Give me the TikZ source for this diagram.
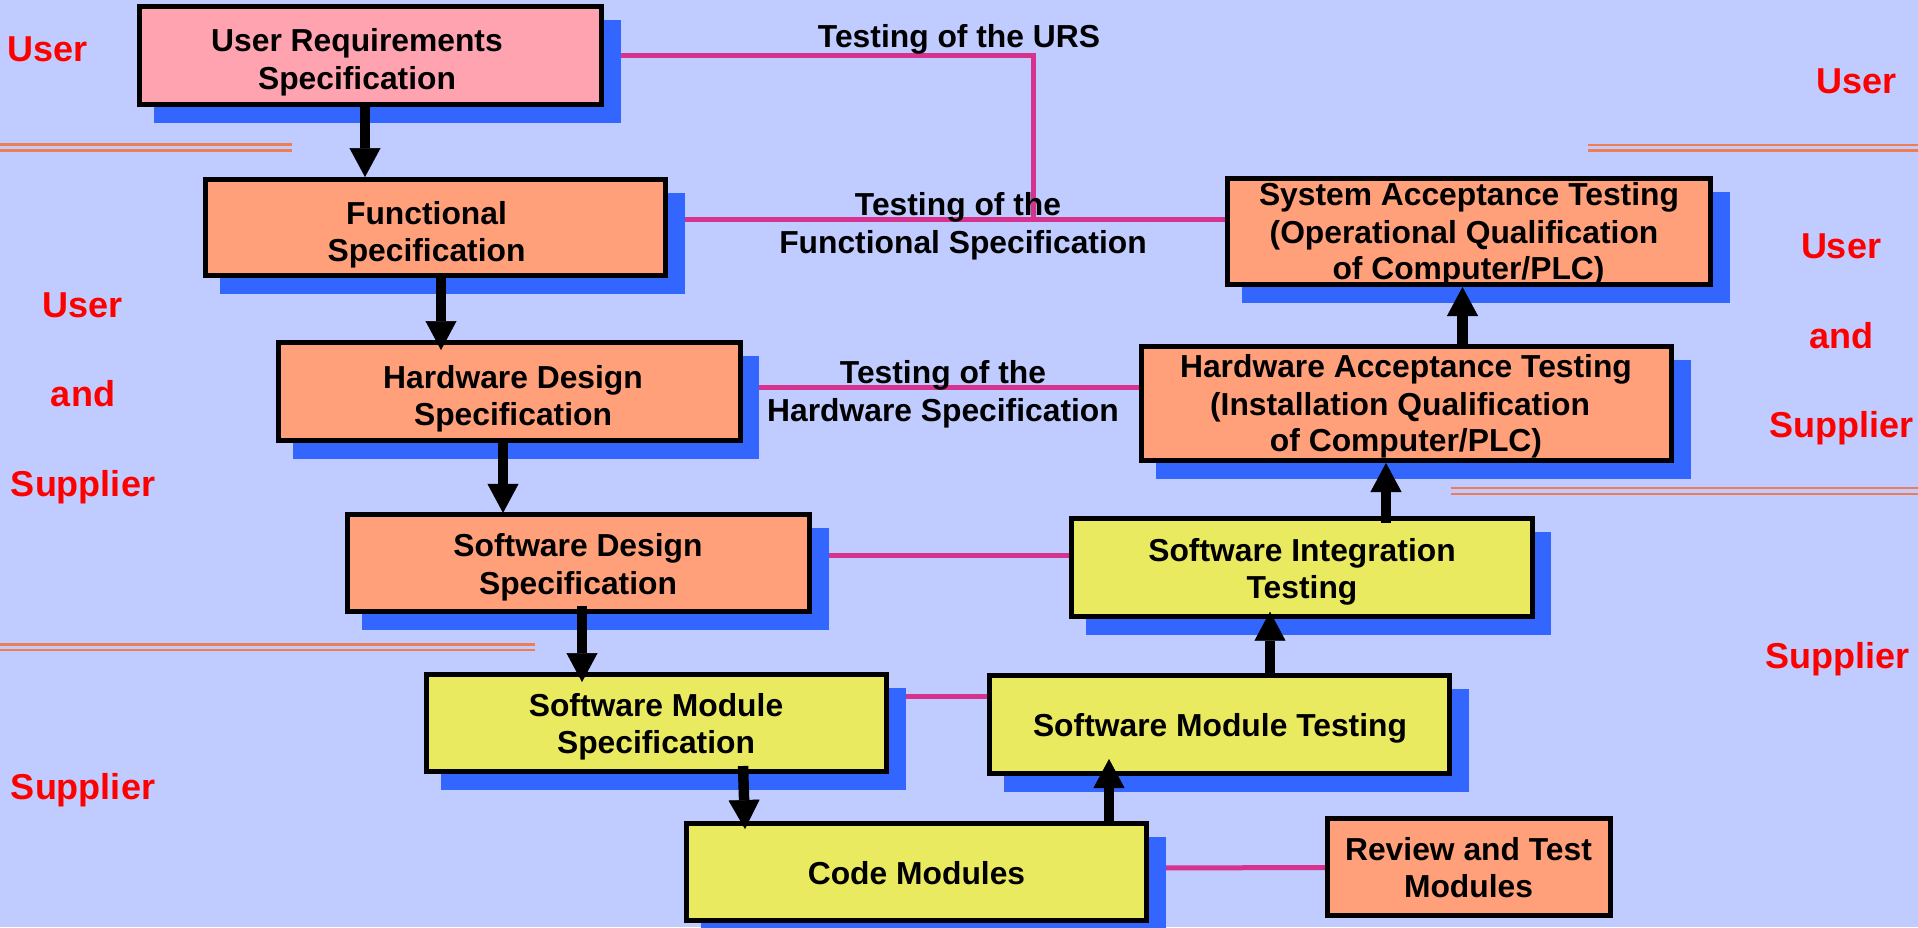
\documentclass[tikz,border=0pt]{standalone}
\usepackage{fontspec}
\setmainfont{Liberation Sans}
\usetikzlibrary{arrows.meta,shadows,backgrounds}
\definecolor{bgc}{RGB}{192,203,255}
\definecolor{sblue}{RGB}{51,102,255}
\definecolor{pinkfill}{RGB}{255,163,177}
\definecolor{salmon}{RGB}{255,160,122}
\definecolor{yel}{RGB}{234,234,96}
\definecolor{pline}{RGB}{214,51,143}
\definecolor{oline}{RGB}{240,125,80}
\definecolor{redtxt}{RGB}{255,0,0}
\newcommand\boxfont{\fontsize{31.8}{38}\selectfont\bfseries}
\newcommand\sidefont{\fontsize{36}{43}\selectfont\bfseries}
\begin{document}
\begin{tikzpicture}[x=1pt,y=-1pt,
  plainbox/.style={draw=black, line width=5pt, rectangle, inner sep=0pt},
  box/.style={plainbox, drop shadow={shadow xshift=16.5pt, shadow yshift=-16pt,
      opacity=1, fill=sblue, draw=sblue, line width=5pt}},
  txt/.style={font=\boxfont, text=black, anchor=base, inner sep=0pt},
  side/.style={font=\sidefont, text=redtxt, anchor=base, inner sep=0pt},
  arr/.style={line width=10.5pt, draw=black,
      -{Triangle[width=31pt,length=29pt,line width=0.5pt]}},
  pl/.style={draw=pline, line width=5pt},
  sepline/.style={draw=oline, line width=2.5pt}]

\useasboundingbox (0,0) rectangle (1918,927);

% boxes
\node[box, fill=pinkfill, minimum width=462pt, minimum height=98pt] (urs) at (370.5,55.5) {};
\node[box, fill=salmon, minimum width=460pt, minimum height=96pt] (fs) at (435.5,227.5) {};
\node[box, fill=salmon, minimum width=461.5pt, minimum height=98pt] (hds) at (509.25,391.5) {};
\node[box, fill=salmon, minimum width=462pt, minimum height=97.3pt] (sds) at (578.5,563) {};
\node[box, fill=yel, minimum width=460pt, minimum height=97pt] (sms) at (656.5,723) {};
\node[box, fill=yel, minimum width=460pt, minimum height=97pt] (cm) at (916.5,872) {};
\node[plainbox, fill=salmon, minimum width=282.5pt, minimum height=97pt] (rt) at (1468.75,867) {};
\node[box, fill=yel, minimum width=460pt, minimum height=98pt] (smt) at (1219.5,724.5) {};
\node[box, fill=yel, minimum width=460.5pt, minimum height=97.7pt] (sit) at (1301.75,567.35) {};
\node[box, fill=salmon, minimum width=530pt, minimum height=114pt] (hat) at (1406.5,403.5) {};
\node[box, fill=salmon, minimum width=483pt, minimum height=106pt] (sat) at (1469,231.5) {};

\coordinate (urstap) at (1033,219);

\begin{pgfonlayer}{background}
  \fill[bgc] (0,0) rectangle (1918,927);
  % test connectors
  \draw[pl] (urs.east) -| (urstap);
  \draw[pl] ([yshift=8.5pt]fs.east) -- ([yshift=12.5pt]sat.west);
  \draw[pl] ([yshift=4.5pt]hds.east) -- ([yshift=16.5pt]hat.west);
  \draw[pl] ([yshift=8pt]sds.east) -- ([yshift=12.35pt]sit.west);
  \draw[pl] ([yshift=27pt]sms.east) -- ([yshift=28.5pt]smt.west);
  \draw[pl] ([yshift=4pt]cm.east) -- ([yshift=-0.5pt]rt.west);
\end{pgfonlayer}

% separators
\draw[sepline] (0,144.5) -- (292,144.5);
\draw[sepline] (0,150.5) -- (292,150.5);
\draw[sepline] (1588,145) -- (1918,145);
\draw[sepline] (1588,150.5) -- (1918,150.5);
\draw[sepline] (1451,488) -- (1918,488);
\draw[sepline] (1451,494) -- (1918,494);
\draw[sepline] (0,644.5) -- (535,644.5);
\draw[sepline] (0,650) -- (535,650);

% flow arrows
\draw[arr] ([xshift=-5.5pt]urs.south) -- ([xshift=-70.5pt]fs.north);
\draw[arr] ([xshift=5.5pt]fs.south) -- ([xshift=-68.25pt,yshift=-10pt]hds.north);
\draw[arr] ([xshift=-6.25pt]hds.south) -- ([xshift=-75.5pt,yshift=-1pt]sds.north);
\draw[arr] ([xshift=3.5pt,yshift=8pt]sds.south) -- ([xshift=-74.5pt,yshift=-10pt]sms.north);
\draw[arr] ([xshift=86.5pt,yshift=8pt]sms.south) -- ([xshift=-171.5pt,yshift=-8pt]cm.north);
\draw[arr] ([xshift=192.5pt]cm.north) -- ([xshift=-110.5pt,yshift=17pt]smt.south);
\draw[arr] ([xshift=50.5pt]smt.north) -- ([xshift=-31.75pt,yshift=7pt]sit.south);
\draw[arr] ([xshift=84.25pt,yshift=-6.7pt]sit.north) -- ([xshift=-20.5pt]hat.south);
\draw[arr] ([xshift=56pt]hat.north) -- ([xshift=-6.5pt]sat.south);

% box texts
\node[txt] (urs1) at (357,51.7) {User Requirements};
\node[txt] (urs2) at (357,89) {Specification};
\node[txt] (fs1) at (426.5,224) {Functional};
\node[txt] (fs2) at (426.5,261.7) {Specification};
\node[txt] (hds1) at (513,388) {Hardware Design};
\node[txt] (hds2) at (513,425.7) {Specification};
\node[txt] (sds1) at (578,556.7) {Software Design};
\node[txt] (sds2) at (578,594) {Specification};
\node[txt] (sms1) at (656,716) {Software Module};
\node[txt] (sms2) at (656,753) {Specification};
\node[txt] (cm1) at (916.5,884) {Code Modules};
\node[txt] (rt1) at (1468.5,860) {Review and Test};
\node[txt] (rt2) at (1468.5,897.7) {Modules};
\node[txt] (smt1) at (1220,736.7) {Software Module Testing};
\node[txt] (sit1) at (1302,561) {Software Integration};
\node[txt] (sit2) at (1302,598) {Testing};
\node[txt] (hat1) at (1406,377.7) {Hardware Acceptance Testing};
\node[txt] (hat2) at (1400,415.7) {(Installation Qualification};
\node[txt] (hat3) at (1406,451.7) {of Computer/PLC)};
\node[txt] (sat1) at (1469,205) {System Acceptance Testing};
\node[txt] (sat2) at (1464,243) {(Operational Qualification};
\node[txt] (sat3) at (1468.5,279) {of Computer/PLC)};

% connector labels
\node[txt] (lurs) at (959,47.3) {Testing of the URS};
\node[txt] (lfs1) at (958,215) {Testing of the};
\node[txt] (lfs2) at (963,253) {Functional Specification};
\node[txt] (lhw1) at (943,383) {Testing of the};
\node[txt] (lhw2) at (943,421.7) {Hardware Specification};

% side labels
\node[side] (s1) at (48,61) {User};
\node[side] (s2) at (83,317) {User};
\node[side] (s3) at (83,406) {and};
\node[side] (s4) at (83,496) {Supplier};
\node[side] (s5) at (83,799) {Supplier};
\node[side] (s6) at (1856.7,93) {User};
\node[side] (s7) at (1841,258) {User};
\node[side] (s8) at (1841,348) {and};
\node[side] (s9) at (1841,437) {Supplier};
\node[side] (s10) at (1837,668) {Supplier};
\end{tikzpicture}
\end{document}
